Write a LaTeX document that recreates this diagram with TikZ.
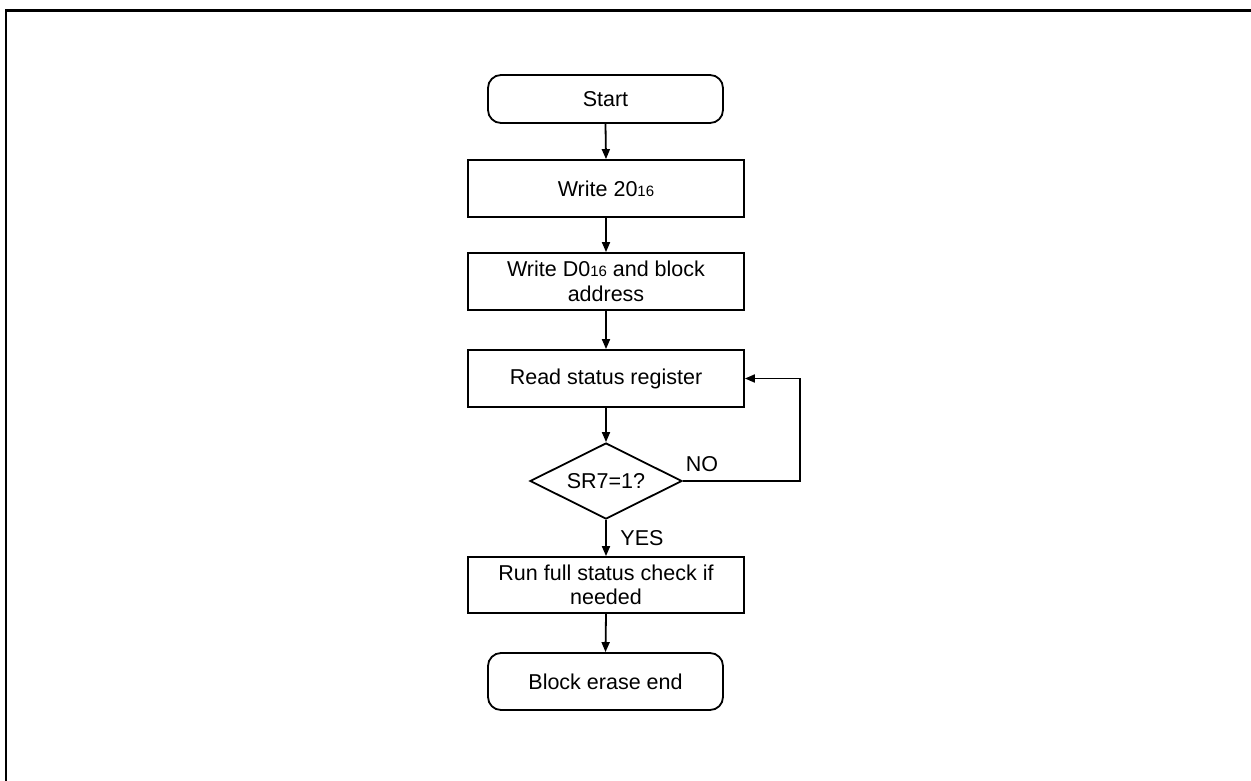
\documentclass[tikz,border=0pt]{standalone}
\usepackage{fontspec}
\setmainfont{Liberation Sans}
\usetikzlibrary{shapes.geometric,arrows.meta}
\newcommand{\sixteen}{{\fontsize{15}{15}\selectfont 16}}

\begin{document}
\begin{tikzpicture}[x=1pt, y=1pt,
		font=\fontsize{21.5}{24.5}\selectfont,
		boite/.style={draw, line width=1.8pt, minimum width=276pt, minimum height=57pt,
			inner sep=0pt, align=center},
		terminal/.style={draw, line width=1.8pt, rounded corners=13pt, minimum width=235pt,
			inner sep=0pt, align=center},
		losange/.style={draw, line width=1.8pt, diamond, minimum width=152pt,
			minimum height=76pt, inner sep=0pt, aspect=2},
		fleche/.style={line width=1.8pt, -{Triangle[length=10pt,width=8pt]}}]
		
		% Cadre
		\useasboundingbox (0,0) rectangle (1251,-780);
		\clip (0,0) rectangle (1251,-780);
		\draw[line width=2.6pt] (6,-10.5) rectangle (1270,-800);
		
		% Etapes
		\node[terminal, minimum height=48pt] (start) at (605.5,-99) {Start};
		\node[boite] (w20) at (606,-188.5) {Write 20\sixteen};
		\node[boite] (wd0) at (606,-281.5) {Write D0\sixteen{} and block\\address};
		\node[boite] (rd) at (606,-378.5) {Read status register};
		\node[losange] (dec) at (606,-481) {SR7=1?};
		\node[boite, minimum height=56pt] (run) at (606,-585) {Run full status check if\\needed};
		\node[terminal, minimum height=57pt] (end) at (605.5,-681.5) {Block erase end};
		
		% Fleches
		\foreach \a/\b in {start/w20, wd0/rd, w20/wd0, rd/dec, dec/run, run/end}{
			\draw[fleche] (\a.south) -- (\b.north);
		}
		
		% Boucle NO
		\coordinate (boucle) at (800,-481);
		\draw[fleche] (dec.east) -- (boucle) |- (rd.east);
		\node (non) at (702,-464) {NO};
		\node (oui) at (642,-538) {YES};
	\end{tikzpicture}
\end{document}
